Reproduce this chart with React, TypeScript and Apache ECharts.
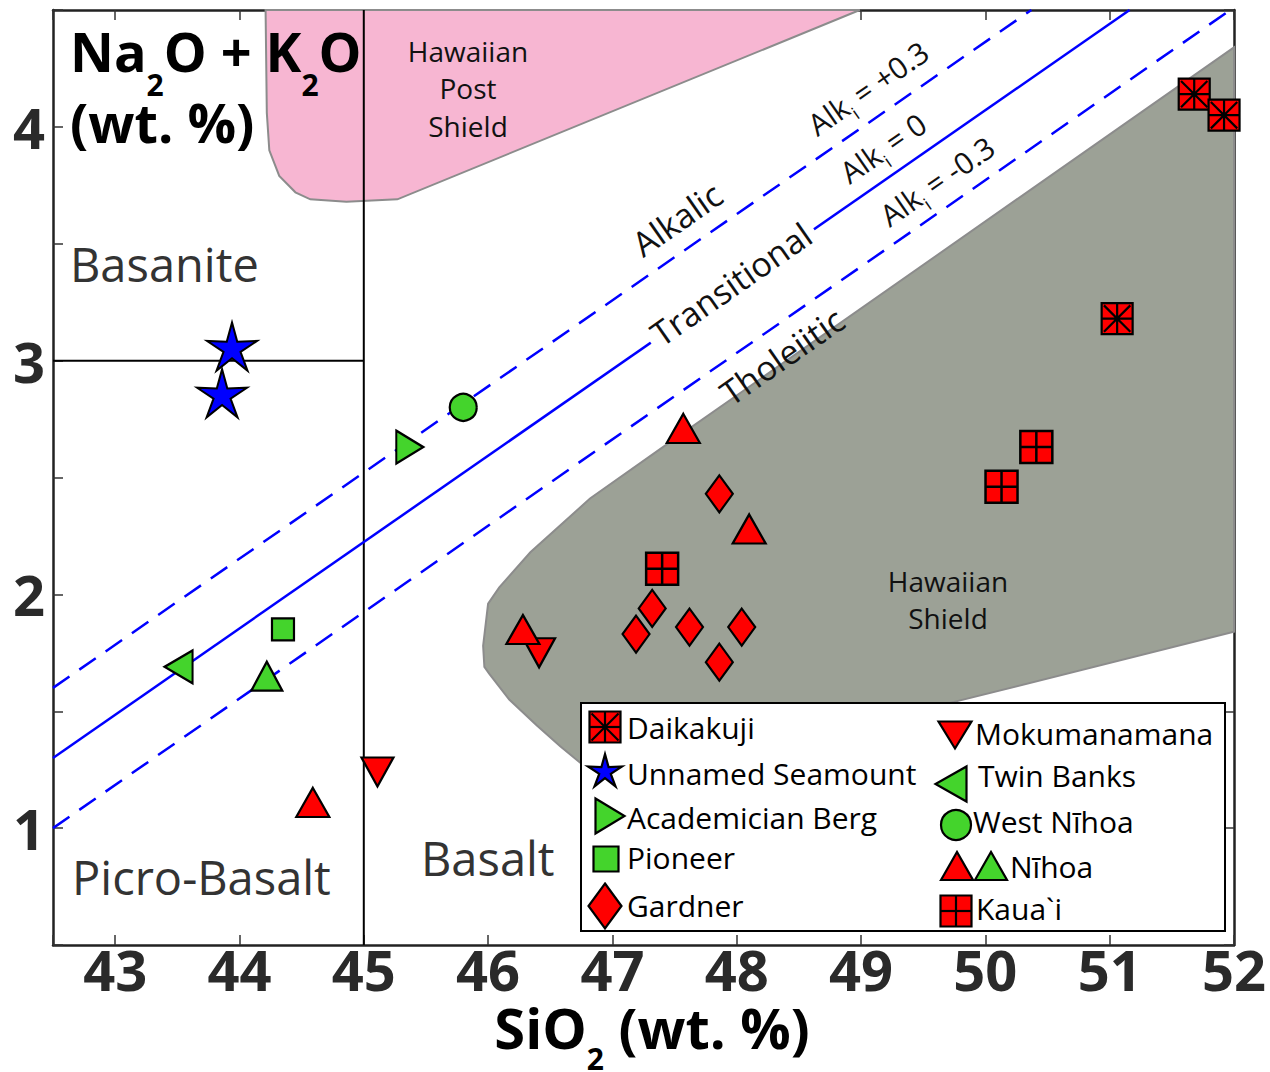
import React, { useEffect, useRef } from "react";
import * as echarts from "echarts";

// ---------- axis ranges ----------
const X_MIN = 42.5;
const X_MAX = 52;
const Y_MIN = 0.5;
const Y_MAX = 4.5;

// ---------- sample data (SiO2, Na2O+K2O) ----------
const daikakuji = [[51.68, 4.14], [51.92, 4.05], [51.06, 3.18]];
const unnamedSeamount = [[43.94, 3.06], [43.86, 2.86]];
const academicianBerg = [[45.37, 2.63]];
const pioneer = [[44.35, 1.85]];
const gardner = [[47.86, 2.43], [47.32, 1.94], [47.19, 1.83], [47.62, 1.86], [48.04, 1.86], [47.86, 1.71]];
const mokumanamana = [[45.11, 1.24], [46.41, 1.75]];
const twinBanks = [[43.51, 1.69]];
const westNihoa = [[45.8, 2.8]];
const nihoaRed = [[44.59, 1.11], [46.28, 1.85], [47.57, 2.71], [48.1, 2.28]];
const nihoaGreen = [[44.22, 1.65]];
const kauai = [[47.4, 2.11], [50.13, 2.46], [50.41, 2.63]];

// ---------- reference lines ----------
const alkZero = [[42.5, 1.3], [51.16, 4.5]];
const alkPlus = [[42.5, 1.6], [50.37, 4.5]];
const alkMinus = [[42.5, 1.0], [51.97, 4.5]];
const basaltBoundary = [[45, 0.5], [45, 4.5]];
const basaniteBoundary = [[42.5, 3], [45, 3]];

// ---------- fields ----------
const postShieldField = [
  [44.21, 4.5], [44.22, 4.06], [44.24, 3.9], [44.32, 3.79], [44.45, 3.72], [44.57, 3.69],
  [44.86, 3.68], [45.27, 3.69], [48.99, 4.5],
];
const shieldField = [
  [52.0, 4.34], [47.46, 2.65], [46.82, 2.41], [46.34, 2.18], [46.09, 2.03], [46.0, 1.96],
  [45.96, 1.78], [45.97, 1.69], [46.01, 1.66], [46.17, 1.55], [46.39, 1.44], [46.58, 1.35],
  [46.74, 1.28], [47.06, 1.22], [49.75, 1.54], [52.0, 1.84],
];

// ---------- legend labels ----------
const legendLeft = ["Daikakuji", "Unnamed Seamount", "Academician Berg", "Pioneer", "Gardner"];
const legendRight = ["Mokumanamana", "Twin Banks", "West N\u012Bhoa", "N\u012Bhoa", "Kaua`i"];

const RED = "#ff0000";
const GREEN = "#44d42c";
const BLUE = "#0000ff";
const FONT = "Open Sans";
const STAR_RATIO = 0.34;

function starPts(cx: number, cy: number, R: number, r: number) {
  const pts: number[][] = [];
  for (let i = 0; i < 10; i++) {
    const a = -Math.PI / 2 + (i * Math.PI) / 5;
    const rad = i % 2 === 0 ? R : r;
    pts.push([cx + rad * Math.cos(a), cy + rad * Math.sin(a)]);
  }
  return pts;
}
const starPath =
  "path://" +
  starPts(10, 10, 10, 10 * STAR_RATIO)
    .map((p, i) => (i === 0 ? "M" : "L") + p[0].toFixed(3) + "," + p[1].toFixed(3))
    .join("") +
  "Z";

const SYM = {
  squareStar: "path://M0,0L20,0L20,20L0,20Z M10,0L10,20 M0,10L20,10 M1.5,1.5L18.5,18.5 M18.5,1.5L1.5,18.5",
  squareCross: "path://M0,0L20,0L20,20L0,20Z M10,0L10,20 M0,10L20,10",
  triDown: "path://M0,0L20,0L10,20Z",
  triLeft: "path://M20,0L20,20L0,10Z",
  triRight: "path://M0,0L20,10L0,20Z",
  star: starPath,
};

function scatter(name: string, data: number[][], symbol: string, size: any, color: string, bw = 2.2) {
  return {
    type: "scatter",
    name,
    data,
    symbol,
    symbolSize: size,
    xAxisIndex: 0,
    yAxisIndex: 0,
    z: 5,
    silent: true,
    itemStyle: { color, borderColor: "#000", borderWidth: bw, opacity: 1 },
  };
}

function line(data: number[][], color: string, dashed: boolean, width = 2.5) {
  return {
    type: "line",
    data,
    symbol: "none",
    xAxisIndex: 0,
    yAxisIndex: 0,
    z: 3,
    silent: true,
    lineStyle: { color, width, type: dashed ? [20, 12] : "solid" },
  };
}

function field(points: number[][], fill: string) {
  return {
    type: "custom",
    xAxisIndex: 0,
    yAxisIndex: 0,
    z: 1,
    silent: true,
    data: [[X_MIN, Y_MIN]],
    renderItem: (_p: any, api: any) => ({
      type: "polygon",
      shape: { points: points.map((pt) => api.coord(pt)) },
      style: { fill, stroke: "#8c8c8c", lineWidth: 2 },
    }),
  };
}

const LZ = 50;
// legend icon builder (pixel layout)
function icon(kind: string, cx: number, cy: number, w: number, h: number, fill: string) {
  const st = { fill, stroke: "#000", lineWidth: 2.2 };
  const ls = { stroke: "#000", lineWidth: 2.2 };
  const x0 = cx - w / 2, y0 = cy - h / 2, x1 = cx + w / 2, y1 = cy + h / 2;
  const rect = { type: "rect", z: LZ + 1, shape: { x: x0, y: y0, width: w, height: h }, style: st };
  const ln = (a: number, b: number, c: number, d: number) => ({ type: "line", z: LZ + 2, shape: { x1: a, y1: b, x2: c, y2: d }, style: ls });
  const poly = (pts: number[][]) => ({ type: "polygon", z: LZ + 1, shape: { points: pts }, style: st });
  switch (kind) {
    case "square":
      return [rect];
    case "squareCross":
      return [rect, ln(cx, y0, cx, y1), ln(x0, cy, x1, cy)];
    case "squareStar":
      return [rect, ln(cx, y0, cx, y1), ln(x0, cy, x1, cy), ln(x0 + 2, y0 + 2, x1 - 2, y1 - 2), ln(x1 - 2, y0 + 2, x0 + 2, y1 - 2)];
    case "star":
      return [poly(starPts(cx, cy + 1, w / 1.902, (w / 1.902) * STAR_RATIO))];
    case "triUp":
      return [poly([[x0, y1], [cx, y0], [x1, y1]])];
    case "triDown":
      return [poly([[x0, y0], [x1, y0], [cx, y1]])];
    case "triLeft":
      return [poly([[x1, y0], [x1, y1], [x0, cy]])];
    case "triRight":
      return [poly([[x0, y0], [x1, cy], [x0, y1]])];
    case "diamond":
      return [poly([[cx, y0], [x1, cy], [cx, y1], [x0, cy]])];
    case "circle":
      return [{ type: "circle", z: LZ + 1, shape: { cx, cy, r: w / 2 }, style: st }];
  }
  return [];
}

function legendText(text: string, x: number, y: number) {
  return {
    type: "text",
    z: LZ + 1,
    x,
    y,
    style: { text, fill: "#000", font: `30px '${FONT}'`, align: "left", verticalAlign: "middle" },
  };
}

function plainText(text: string, x: number, y: number, size: number, color: string, opts: any = {}) {
  return {
    type: "text",
    x,
    y,
    z: 10,
    rotation: opts.rotation || 0,
    style: {
      text,
      fill: color,
      font: `${opts.bold ? "bold " : ""}${size}px '${FONT}'`,
      align: opts.align || "left",
      verticalAlign: "middle",
      lineHeight: opts.lineHeight,
      backgroundColor: opts.bg,
      padding: opts.padding,
    },
  };
}

function subText(parts: string, x: number, y: number, main: number, sub: number, mainLH: number, opts: any = {}) {
  return {
    type: "text",
    x,
    y,
    z: 10,
    rotation: opts.rotation || 0,
    style: {
      text: parts,
      fill: opts.color || "#000",
      align: opts.align || "left",
      verticalAlign: "middle",
      rich: {
        m: { fontSize: main, fontFamily: FONT, fontWeight: opts.bold ? "bold" : "normal", lineHeight: mainLH, fill: opts.color || "#000" },
        s: { fontSize: sub, fontFamily: FONT, fontWeight: opts.bold ? "bold" : "normal", lineHeight: sub, verticalAlign: "bottom", fill: opts.color || "#000" },
      },
    },
  };
}

const ROT = Math.atan((0.37 * 234) / 124.3);

export default function App() {
  const ref = useRef<HTMLDivElement>(null);
  useEffect(() => {
    if (!ref.current) return;
    const chart = echarts.init(ref.current, null, { renderer: "svg" });

    const axisBase = {
      type: "value",
      axisLine: { show: true, onZero: false, lineStyle: { color: "#222", width: 2.5 } },
      axisTick: { show: true, inside: true, length: 10, lineStyle: { color: "#333", width: 1.5 } },
      splitLine: { show: false },
    };
    const intLabel = (v: number) => (Number.isInteger(v) ? String(v) : "");
    const labelStyle = { fontSize: 56, fontWeight: "bold", color: "#2a2a2a", fontFamily: FONT };

    const legendEls: any[] = [
      { type: "rect", z: LZ, shape: { x: 581, y: 703, width: 644, height: 228 }, style: { fill: "#fff", stroke: "#000", lineWidth: 2 } },
      ...icon("squareStar", 605, 727, 31, 31, RED),
      ...icon("star", 605, 771, 34, 32, BLUE),
      ...icon("triRight", 610, 816, 29, 35, GREEN),
      ...icon("square", 606, 859, 25, 25, GREEN),
      ...icon("diamond", 605, 906, 33, 45, RED),
      ...icon("triDown", 955, 735, 33, 27, RED),
      ...icon("triLeft", 951, 784, 31, 35, GREEN),
      ...icon("circle", 956, 825, 30, 30, GREEN),
      ...icon("triUp", 957, 866, 32, 28, RED),
      ...icon("triUp", 991, 866, 32, 28, GREEN),
      ...icon("squareCross", 956, 911, 31, 31, RED),
      legendText(legendLeft[0], 627, 727),
      legendText(legendLeft[1], 627, 773),
      legendText(legendLeft[2], 627, 817),
      legendText(legendLeft[3], 627, 857),
      legendText(legendLeft[4], 627, 905),
      legendText(legendRight[0], 975, 733),
      legendText(legendRight[1], 978, 775),
      legendText(legendRight[2], 973, 821),
      legendText(legendRight[3], 1010, 866),
      legendText(legendRight[4], 976, 908),
    ];

    chart.setOption({
      animation: false,
      backgroundColor: "#fff",
      grid: { left: 53, right: 36, top: 10, bottom: 127, containLabel: false },
      xAxis: [
        {
          ...axisBase,
          position: "bottom",
          min: X_MIN,
          max: X_MAX,
          splitNumber: 10,
          minInterval: 1,
          maxInterval: 1,
          axisLabel: { ...labelStyle, formatter: intLabel, margin: -4 },
        },
        {
          ...axisBase,
          position: "top",
          min: X_MIN,
          max: X_MAX,
          splitNumber: 10,
          minInterval: 1,
          maxInterval: 1,
          axisLabel: { show: false },
        },
      ],
      yAxis: [
        {
          ...axisBase,
          position: "left",
          min: Y_MIN,
          max: Y_MAX,
          interval: 0.5,
          axisLabel: { ...labelStyle, formatter: intLabel, margin: 8 },
        },
        {
          ...axisBase,
          position: "right",
          min: Y_MIN,
          max: Y_MAX,
          interval: 0.5,
          axisLabel: { show: false },
        },
      ],
      series: [
        field(postShieldField, "#f7b6d2"),
        field(shieldField, "#9ca196"),
        line(basaltBoundary, "#000", false, 2),
        line(basaniteBoundary, "#000", false, 2),
        line(alkPlus, BLUE, true),
        line(alkZero, BLUE, false),
        line(alkMinus, BLUE, true),
        scatter("Daikakuji", daikakuji, SYM.squareStar, 31, RED),
        scatter("Unnamed Seamount", unnamedSeamount, SYM.star, [50, 48], BLUE, 2),
        scatter("Academician Berg", academicianBerg, SYM.triRight, [27, 33], GREEN),
        scatter("Pioneer", pioneer, "rect", 22, GREEN),
        scatter("Gardner", gardner, "diamond", [27, 37], RED),
        scatter("Mokumanamana", mokumanamana, SYM.triDown, [32, 29], RED),
        scatter("Twin Banks", twinBanks, SYM.triLeft, [28, 33], GREEN),
        scatter("West N\u012Bhoa", westNihoa, "circle", 27, GREEN),
        scatter("N\u012Bhoa", nihoaRed, "triangle", [33, 29], RED),
        scatter("N\u012Bhoa ", nihoaGreen, "triangle", [31, 29], GREEN),
        scatter("Kaua`i", kauai, SYM.squareCross, 32, RED, 2.5),
      ],
      graphic: [
        subText("{m|Na}{s|2}{m|O + K}{s|2}{m|O}", 70, 51, 54, 30, 96, { bold: true }),
        plainText("(wt. %)", 70, 122, 54, "#000", { bold: true }),
        subText("{m|SiO}{s|2}{m| (wt. %)}", 652, 1027, 56, 30, 92, { bold: true, align: "center" }),
        plainText("Basanite", 70, 264, 47, "#333"),
        plainText("Picro-Basalt", 72, 877, 47, "#333"),
        plainText("Basalt", 421, 858, 47, "#333"),
        plainText("Hawaiian\nPost\nShield", 468, 88, 28, "#111", { align: "center", lineHeight: 37.5 }),
        plainText("Hawaiian\nShield", 948, 599, 28, "#111", { align: "center", lineHeight: 37 }),
        plainText("Alkalic", 677, 219, 34, "#111", { align: "center", rotation: ROT }),
        plainText("Transitional", 731, 284, 34, "#111", { align: "center", rotation: ROT, bg: "#fff", padding: [0, 6] }),
        plainText("Tholeiitic", 782, 356, 34, "#111", { align: "center", rotation: ROT }),
        subText("{m|Alk}{s|i}{m| = +0.3}", 868, 88, 30, 18, 44, { align: "center", rotation: ROT, color: "#111" }),
        subText("{m|Alk}{s|i}{m| = 0}", 883, 148, 30, 18, 44, { align: "center", rotation: ROT, color: "#111" }),
        subText("{m|Alk}{s|i}{m| = -0.3}", 937, 181, 30, 18, 44, { align: "center", rotation: ROT, color: "#111" }),
        ...legendEls,
      ],
    });
    return () => chart.dispose();
  }, []);

  return (
    <div
      ref={ref}
      style={{ position: "fixed", left: 0, top: 0, width: 1270, height: 1072, background: "#fff" }}
    />
  );
}
